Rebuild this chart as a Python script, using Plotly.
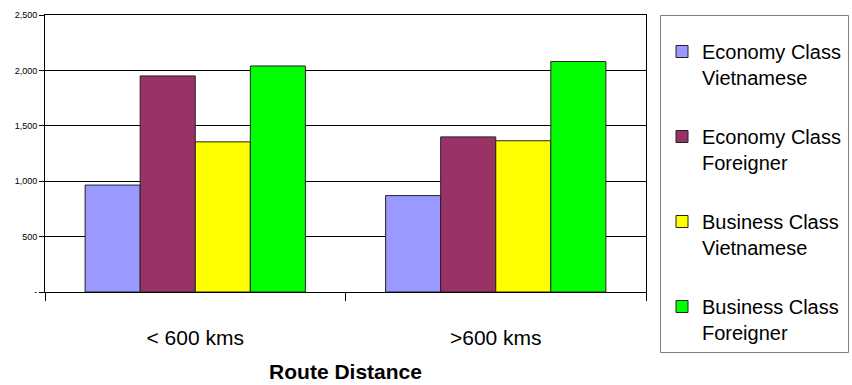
import plotly.graph_objects as go

# Fare levels by route distance and passenger type
categories = ["< 600 kms", ">600 kms"]
series_names = [
    "Economy Class<br>Vietnamese",
    "Economy Class<br>Foreigner",
    "Business Class<br>Vietnamese",
    "Business Class<br>Foreigner",
]
economy_vietnamese = [965, 870]
economy_foreigner = [1950, 1400]
business_vietnamese = [1355, 1365]
business_foreigner = [2040, 2080]
series_values = [economy_vietnamese, economy_foreigner, business_vietnamese, business_foreigner]
series_colors = ["#9999FF", "#993366", "#FFFF00", "#00FF00"]

y_tick_values = [0, 500, 1000, 1500, 2000, 2500]
y_tick_labels = ["-", "500", "1,000", "1,500", "2,000", "2,500"]

FONT = "Liberation Sans, Arial, sans-serif"
W, H = 852, 385
M = dict(l=45, r=206, t=15, b=93)

fig = go.Figure()
for i, (name, vals, col) in enumerate(zip(series_names, series_values, series_colors)):
    fig.add_trace(go.Bar(
        x=categories, y=vals, name=name,
        marker=dict(color=col, line=dict(color="#222222", width=1)),
        legendgroup=f"g{i}",
    ))

# Frame around the legend, in paper coordinates
plot_w = W - M["l"] - M["r"]
plot_h = H - M["t"] - M["b"]
def px_x(p):
    return (p - M["l"]) / plot_w
def px_y(p):
    return 1 - (p - M["t"]) / plot_h

fig.add_shape(
    type="rect", xref="paper", yref="paper",
    x0=px_x(660.5), x1=px_x(848.5), y0=px_y(352.5), y1=px_y(15.5),
    line=dict(color="#808080", width=1), fillcolor="rgba(0,0,0,0)",
)

fig.update_layout(
    width=W, height=H,
    margin=dict(**M, autoexpand=False),
    paper_bgcolor="white", plot_bgcolor="white",
    barmode="group", bargap=0.267, bargroupgap=0,
    font=dict(family=FONT, color="black"),
    showlegend=True,
    legend=dict(
        x=px_x(662), xanchor="left", y=px_y(32), yanchor="top",
        font=dict(size=20, family=FONT, color="black"),
        bgcolor="rgba(0,0,0,0)", borderwidth=0,
        traceorder="grouped", tracegroupgap=30,
        valign="top", itemwidth=30, maxheight=340,
    ),
    xaxis=dict(
        showline=True, linecolor="black", linewidth=1, mirror=True,
        ticks="outside", tickson="boundaries", ticklen=8, tickcolor="black",
        tickfont=dict(size=21, family=FONT),
        ticklabelstandoff=27,
        title=dict(text="<b>Route Distance</b>", font=dict(size=21, family=FONT), standoff=16),
        showgrid=False,
    ),
    yaxis=dict(
        range=[0, 2500],
        tickvals=y_tick_values, ticktext=y_tick_labels,
        showline=True, linecolor="black", linewidth=1, mirror=True,
        ticks="outside", ticklen=5, tickcolor="black",
        tickfont=dict(size=9, family=FONT),
        showgrid=True, gridcolor="black", gridwidth=1,
        zeroline=False,
    ),
)

fig.write_html("out.html")
